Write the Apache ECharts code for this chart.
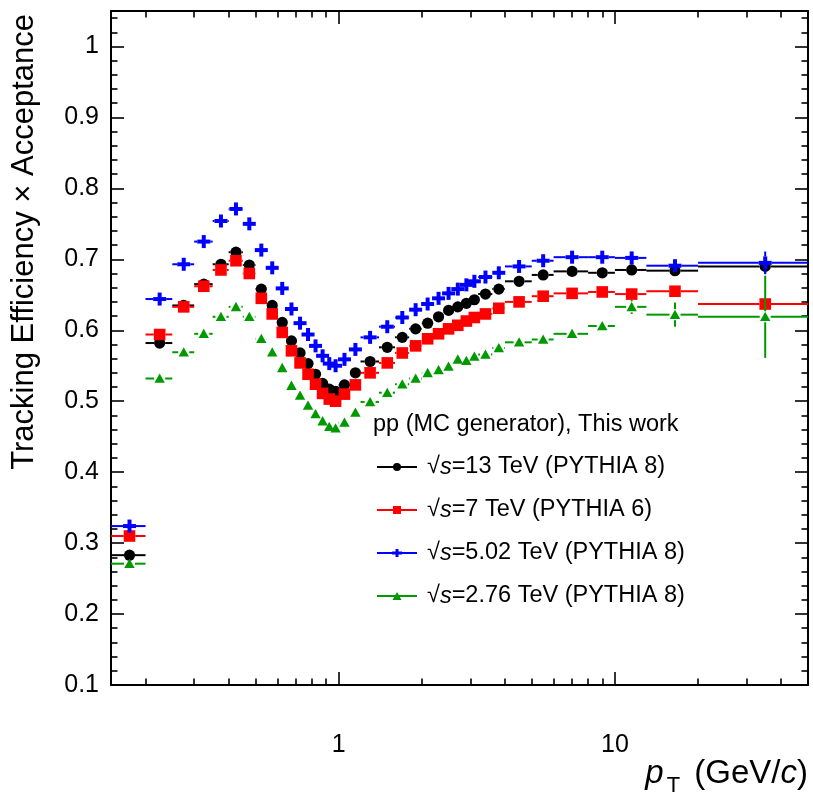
<!DOCTYPE html>
<html>
<head>
<meta charset="utf-8">
<script src="https://cdn.jsdelivr.net/npm/echarts@6/dist/echarts.min.js"></script>
<style>
html,body{margin:0;padding:0;background:#fff;}
#chart{width:813px;height:796px;}
</style>
</head>
<body>
<div id="chart"></div>
<script>
// ---- data ----
const binEdges = [0.15,0.2,0.25,0.3,0.35,0.4,0.45,0.5,0.55,0.6,0.65,0.7,0.75,0.8,0.85,0.9,0.95,1.0,1.1,1.2,1.4,1.6,1.8,2.0,2.2,2.4,2.6,2.8,3.0,3.2,3.6,4.0,5.0,6.0,8.0,10,13,20,50];

const eff13 = [0.283,0.582,0.635,0.665,0.693,0.710,0.692,0.658,0.635,0.611,0.585,0.568,0.553,0.538,0.525,0.517,0.514,0.523,0.540,0.556,0.576,0.590,0.602,0.610,0.619,0.628,0.633,0.638,0.643,0.651,0.658,0.669,0.678,0.683,0.681,0.685,0.684,0.690];
const err13 = [0.002,0.002,0.002,0.002,0.002,0.002,0.002,0.002,0.002,0.002,0.002,0.002,0.002,0.002,0.002,0.002,0.002,0.002,0.002,0.002,0.002,0.002,0.002,0.002,0.002,0.002,0.002,0.002,0.002,0.002,0.002,0.002,0.002,0.002,0.002,0.003,0.004,0.010];

const eff7 = [0.310,0.594,0.633,0.662,0.685,0.698,0.680,0.645,0.623,0.597,0.571,0.554,0.538,0.524,0.511,0.503,0.500,0.510,0.523,0.540,0.554,0.568,0.578,0.588,0.595,0.602,0.607,0.613,0.618,0.623,0.631,0.640,0.648,0.652,0.654,0.651,0.655,0.637];
const err7 = [0.001,0.001,0.001,0.001,0.001,0.001,0.001,0.001,0.001,0.001,0.001,0.001,0.001,0.001,0.001,0.001,0.001,0.001,0.001,0.001,0.001,0.001,0.001,0.001,0.001,0.001,0.001,0.001,0.001,0.001,0.001,0.001,0.001,0.001,0.001,0.002,0.003,0.005];

const eff502 = [0.324,0.644,0.693,0.725,0.754,0.771,0.750,0.713,0.688,0.659,0.630,0.610,0.594,0.578,0.564,0.553,0.550,0.559,0.573,0.590,0.605,0.618,0.629,0.637,0.645,0.652,0.658,0.664,0.669,0.675,0.681,0.690,0.698,0.703,0.703,0.702,0.691,0.695];
const err502 = [0.002,0.002,0.002,0.002,0.002,0.002,0.002,0.002,0.002,0.002,0.002,0.002,0.002,0.002,0.002,0.002,0.002,0.002,0.002,0.002,0.002,0.002,0.002,0.002,0.002,0.002,0.002,0.002,0.002,0.002,0.002,0.002,0.002,0.002,0.002,0.003,0.005,0.016];

const eff276 = [0.271,0.532,0.569,0.595,0.619,0.633,0.619,0.588,0.569,0.547,0.522,0.508,0.494,0.482,0.472,0.464,0.462,0.470,0.484,0.499,0.512,0.524,0.532,0.540,0.544,0.549,0.559,0.557,0.563,0.566,0.575,0.583,0.587,0.595,0.606,0.633,0.622,0.619];
const err276 = [0.003,0.003,0.003,0.003,0.003,0.003,0.003,0.003,0.003,0.003,0.003,0.003,0.003,0.003,0.003,0.003,0.003,0.003,0.003,0.003,0.003,0.003,0.003,0.003,0.003,0.003,0.003,0.003,0.003,0.003,0.003,0.004,0.004,0.004,0.005,0.010,0.017,0.058];

const seriesNames = ['√s=13 TeV (PYTHIA 8)','√s=7 TeV (PYTHIA 6)','√s=5.02 TeV (PYTHIA 8)','√s=2.76 TeV (PYTHIA 8)'];
const headerText = 'pp (MC generator), This work';
const xLabelValues = [1, 10];
const xMinorValues = [0.2,0.3,0.4,0.5,0.6,0.7,0.8,0.9,2,3,4,5,6,7,8,9,20,30,40];
const yLabelValues = [0.1,0.2,0.3,0.4,0.5,0.6,0.7,0.8,0.9,1.0];
const yMinorValues = [];
for (let i = 0; i < yLabelValues.length; i++) {
  for (let k = 1; k <= 4; k++) yMinorValues.push(+(yLabelValues[i] + k*0.02).toFixed(2));
}
const xMin = 0.15, xMax = 50, yMin = 0.1, yMax = 1.05;

// ---- build ----
const L = v => Math.log10(v);
function buildData(vals, errs) {
  return vals.map((v, i) => {
    const lo = binEdges[i], hi = binEdges[i+1];
    return [L(lo), L(hi), L((lo+hi)/2), v, errs[i]];
  });
}
const colors = ['#000000','#ff0000','#0000ff','#009900'];
const markers = ['circle','square','cross','triangle'];

function markerShape(kind, cx, cy, color) {
  if (kind === 'circle') return [{type:'circle', shape:{cx:cx, cy:cy, r:5.6}, style:{fill:color}}];
  if (kind === 'square') return [{type:'rect', shape:{x:cx-5.8, y:cy-5.8, width:11.6, height:11.6}, style:{fill:color}}];
  if (kind === 'cross') return [
    {type:'rect', shape:{x:cx-6.5, y:cy-2, width:13, height:4}, style:{fill:color}},
    {type:'rect', shape:{x:cx-2, y:cy-6.5, width:4, height:13}, style:{fill:color}}
  ];
  return [{type:'polygon', shape:{points:[[cx-5.2,cy+4.3],[cx+5.2,cy+4.3],[cx,cy-5]]}, style:{fill:color}}];
}
const gaps = {circle:5.5, square:5.8, cross:6.5, triangle:5.5};

function makeRender(kind, color) {
  return function(params, api) {
    const lo = api.value(0), hi = api.value(1), c = api.value(2), y = api.value(3), e = api.value(4);
    const p1 = api.coord([lo, y]), p2 = api.coord([hi, y]), pc = api.coord([c, y]);
    const pu = api.coord([c, y + e]), pd = api.coord([c, y - e]);
    const g = gaps[kind];
    const ls = {stroke: color, lineWidth: 2};
    const children = [];
    if (pc[0] - g > p1[0]) children.push({type:'line', shape:{x1:p1[0], y1:pc[1], x2:pc[0]-g, y2:pc[1]}, style:ls});
    if (p2[0] > pc[0] + g) children.push({type:'line', shape:{x1:pc[0]+g, y1:pc[1], x2:p2[0], y2:pc[1]}, style:ls});
    if (pc[1] - pu[1] > g) {
      children.push({type:'line', shape:{x1:pc[0], y1:pu[1], x2:pc[0], y2:pc[1]-g}, style:ls});
      children.push({type:'line', shape:{x1:pc[0], y1:pc[1]+g, x2:pc[0], y2:pd[1]}, style:ls});
    }
    markerShape(kind, pc[0], pc[1], color).forEach(m => children.push(m));
    return {type:'group', children: children};
  };
}

const allVals = [[eff13, err13],[eff7, err7],[eff502, err502],[eff276, err276]];
const series = allVals.map((ve, i) => ({
  type: 'custom',
  name: seriesNames[i],
  xAxisIndex: 0, yAxisIndex: 0,
  itemStyle: {color: colors[i]},
  renderItem: makeRender(markers[i], colors[i]),
  encode: {x: [0,1,2], y: [3]},
  data: buildData(ve[0], ve[1]),
  z: 2 + i
}));

const legendIcons = [
  'path://M0,3 L40,3 L40,5 L0,5 Z M16,4 A4,4 0 1 1 24,4 A4,4 0 1 1 16,4 Z',
  'path://M0,3 L40,3 L40,5 L0,5 Z M16,0 L24,0 L24,8 L16,8 Z',
  'path://M0,3 L40,3 L40,5 L0,5 Z M15,2.5 L18.5,2.5 L18.5,0 L21.5,0 L21.5,2.5 L25,2.5 L25,5.5 L21.5,5.5 L21.5,8 L18.5,8 L18.5,5.5 L15,5.5 Z',
  'path://M0,3 L40,3 L40,5 L0,5 Z M20,0 L24.5,8 L15.5,8 Z'
];

const FONT = 'Liberation Sans, Arial, Helvetica, sans-serif';
const axisLineStyle = {color:'#000', width:2};
const tickStyle = {color:'#000', width:1.6};

function xAx(pos, values, len, showLine, showLabel) {
  return {
    type:'value', position: pos, gridIndex:0,
    min: L(xMin), max: L(xMax),
    axisLine: {show: showLine, onZero:false, lineStyle: axisLineStyle},
    axisTick: {show:true, inside:true, length: len, customValues: values.map(L), lineStyle: tickStyle},
    axisLabel: showLabel ? {show:true, customValues: xLabelValues.map(L), formatter: v => String(Math.round(Math.pow(10, v))), margin: 48, fontSize: 25, color:'#000', fontFamily: FONT} : {show:false},
    splitLine: {show:false}
  };
}
function yAx(pos, values, len, showLine, showLabel) {
  return {
    type:'value', position: pos, gridIndex:0,
    min: yMin, max: yMax,
    axisLine: {show: showLine, onZero:false, lineStyle: axisLineStyle},
    axisTick: {show:true, inside:true, length: len, customValues: values, lineStyle: tickStyle},
    axisLabel: showLabel ? {show:true, customValues: yLabelValues, formatter: v => String(+v.toFixed(1)), margin: 12, fontSize: 25, color:'#000', fontFamily: FONT} : {show:false},
    splitLine: {show:false}
  };
}

const xAxes = [xAx('bottom', xLabelValues, 13, true, true), xAx('bottom', xMinorValues, 6.5, false, false), xAx('top', xLabelValues, 13, true, false), xAx('top', xMinorValues, 6.5, false, false)];
xAxes[0].name = '{i|p}{s|T} (GeV/{i|c})';
xAxes[0].nameLocation = 'end';
xAxes[0].nameGap = 0;
xAxes[0].nameTextStyle = {align:'right', verticalAlign:'top', padding:[66,0,0,0], fontSize: 33, color:'#000', fontFamily: FONT,
  rich: {i:{fontStyle:'italic', fontSize:33, fontFamily: FONT, color:'#000'}, s:{fontSize:22, fontFamily: FONT, color:'#000', padding:[24,5,0,3]}}};

const yAxes = [yAx('left', yLabelValues, 13, true, true), yAx('left', yMinorValues, 6.5, false, false), yAx('right', yLabelValues, 13, true, false), yAx('right', yMinorValues, 6.5, false, false)];
yAxes[0].name = 'Tracking Efficiency × Acceptance';
yAxes[0].nameLocation = 'end';
yAxes[0].nameGap = 0;
yAxes[0].nameRotate = 90;
yAxes[0].nameTextStyle = {align:'right', verticalAlign:'bottom', padding:[0,3,71,0], fontSize: 31, color:'#000', fontFamily: FONT};

const chart = echarts.init(document.getElementById('chart'), null, {renderer:'canvas'});
chart.setOption({
  animation: false,
  backgroundColor: '#fff',
  grid: {left: 111, right: 5, top: 11, bottom: 111, containLabel: false, outerBoundsMode: 'none'},
  title: {text: headerText, left: 373, top: 413, padding: 0, textStyle: {fontSize: 23.5, fontWeight: 'normal', color:'#000', fontFamily: FONT}},
  legend: {
    orient: 'vertical', left: 377, top: 455, padding: 0, itemGap: 19,
    itemWidth: 40, itemHeight: 8,
    data: seriesNames.map((n, i) => ({name: n, icon: legendIcons[i]})),
    formatter: n => n.replace('√s', '√{it|s}'),
    textStyle: {fontSize: 23.5, color:'#000', fontFamily: FONT, padding:[0,0,0,5],
      rich: {it:{fontStyle:'italic', fontSize:23.5, color:'#000', fontFamily: FONT}}},
    selectedMode: false
  },
  xAxis: xAxes,
  yAxis: yAxes,
  series: series
});
</script>
</body>
</html>
